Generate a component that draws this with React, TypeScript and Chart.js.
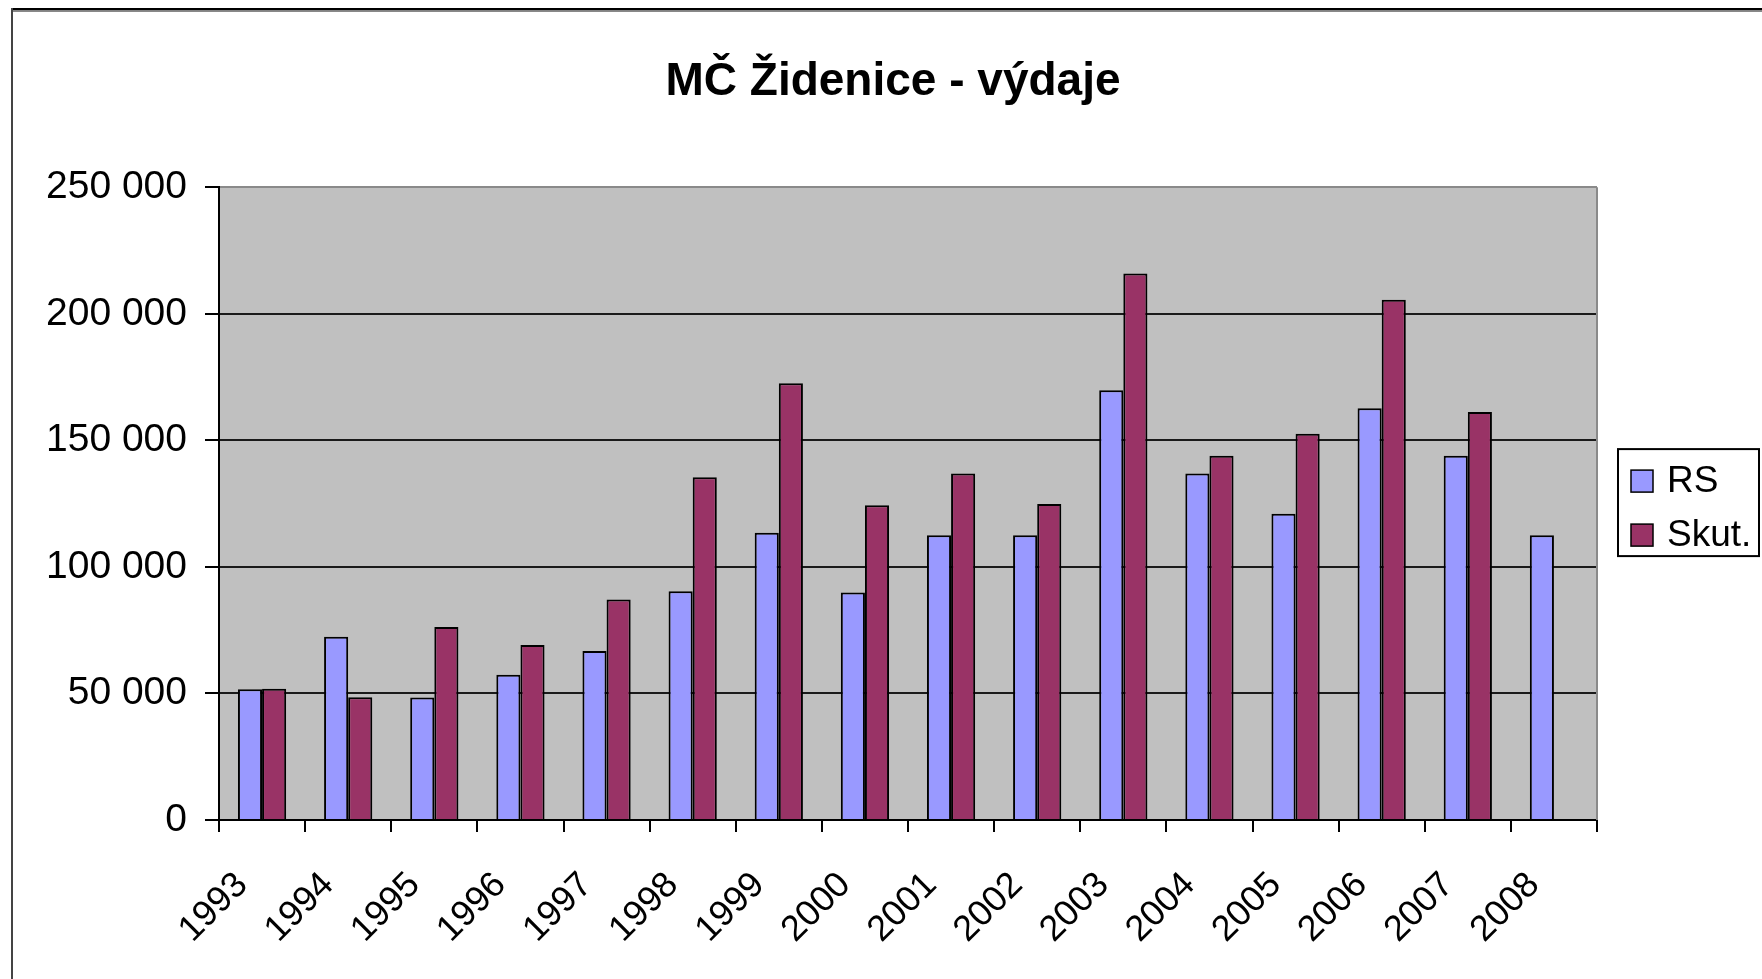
import React, { useEffect, useRef } from "react";
import { Chart, registerables } from "chart.js";

Chart.register(...registerables);

const title = "MČ Židenice - výdaje";
const years = ["1993", "1994", "1995", "1996", "1997", "1998", "1999", "2000", "2001", "2002", "2003", "2004", "2005", "2006", "2007", "2008"];
const rsValues = [51700, 72400, 48400, 57400, 66800, 90400, 113500, 89900, 112500, 112500, 169800, 136900, 121000, 162700, 143900, 112500];
const skutValues: (number | null)[] = [51900, 48500, 76200, 69100, 87100, 135400, 172500, 124300, 136900, 124800, 215900, 143900, 152600, 205500, 161200, null];
const seriesNames = ["RS", "Skut."];
const seriesColors = ["#9999FF", "#993366"];
const yTicks = [0, 50000, 100000, 150000, 200000, 250000];

const FONT = "'Liberation Sans', Arial, sans-serif";

const fmt = (v: number) => String(v).replace(/\B(?=(\d{3})+(?!\d))/g, " ");

const framePlugin = {
  id: "frame",
  beforeDraw(chart: any) {
    const { ctx, chartArea, width, height } = chart;
    ctx.save();
    ctx.fillStyle = "#FFFFFF";
    ctx.fillRect(0, 0, width, height);
    // outer border (top & left)
    ctx.fillStyle = "#000";
    ctx.fillRect(11, 8, width - 11, 2.5);
    ctx.fillStyle = "#888";
    ctx.fillRect(11, 10.5, width - 11, 1.5);
    ctx.fillStyle = "#444";
    ctx.fillRect(11, 8, 2, height - 8);
    // plot background
    ctx.fillStyle = "#C0C0C0";
    ctx.fillRect(chartArea.left, chartArea.top, chartArea.right - chartArea.left, chartArea.bottom - chartArea.top);
    ctx.restore();
  },
  beforeDatasetsDraw(chart: any) {
    const { ctx, chartArea } = chart;
    ctx.save();
    ctx.strokeStyle = "#8a8a8a";
    ctx.lineWidth = 2;
    ctx.beginPath();
    ctx.moveTo(chartArea.right, chartArea.top);
    ctx.lineTo(chartArea.right, chartArea.bottom);
    ctx.stroke();
    ctx.restore();
  },
  afterDraw(chart: any) {
    const { ctx, chartArea } = chart;
    const w = 141;
    const h = 107;
    const x0 = chartArea.right + 21;
    const y0 = (chartArea.top + chartArea.bottom) / 2 - h / 2 - 1;
    ctx.save();
    ctx.fillStyle = "#fff";
    ctx.fillRect(x0, y0, w, h);
    ctx.strokeStyle = "#000";
    ctx.lineWidth = 2;
    ctx.strokeRect(x0, y0, w, h);
    chart.data.datasets.forEach((ds: any, i: number) => {
      const sy = y0 + 21 + i * 54;
      ctx.fillStyle = ds.backgroundColor;
      ctx.fillRect(x0 + 13, sy, 22, 22);
      ctx.strokeStyle = "#000";
      ctx.lineWidth = 1.5;
      ctx.strokeRect(x0 + 13, sy, 22, 22);
      ctx.fillStyle = "#000";
      ctx.font = `37px ${FONT}`;
      ctx.textAlign = "left";
      ctx.textBaseline = "middle";
      ctx.fillText(ds.label, x0 + 49, sy + 12);
    });
    ctx.restore();
  },
};

export default function App() {
  const ref = useRef<HTMLCanvasElement | null>(null);

  useEffect(() => {
    if (!ref.current) return;
    const chart = new Chart(ref.current, {
      type: "bar",
      data: {
        labels: years,
        datasets: [
          {
            label: seriesNames[0],
            data: rsValues,
            backgroundColor: seriesColors[0],
            borderColor: "#000",
            borderWidth: 2,
            categoryPercentage: 0.56,
            barPercentage: 1,
          },
          {
            label: seriesNames[1],
            data: skutValues,
            backgroundColor: seriesColors[1],
            borderColor: "#000",
            borderWidth: 2,
            categoryPercentage: 0.56,
            barPercentage: 1,
          },
        ],
      },
      options: {
        responsive: false,
        animation: false,
        layout: { padding: { left: 24, right: 0, top: 0, bottom: 0 } },
        plugins: {
          legend: { display: false },
          tooltip: { enabled: false },
          title: {
            display: true,
            text: title,
            color: "#000",
            font: { family: FONT, size: 46, weight: "bold" },
            padding: { top: 55, bottom: 77 },
          },
        },
        scales: {
          x: {
            type: "category",
            grid: {
              display: true,
              drawOnChartArea: false,
              drawTicks: true,
              tickLength: 12,
              color: "#000",
              lineWidth: 2,
              offset: true,
            },
            border: { display: true, color: "#000", width: 2 },
            ticks: {
              color: "#000",
              font: { family: FONT, size: 36 },
              minRotation: 45,
              maxRotation: 45,
              autoSkip: false,
              padding: 32,
              labelOffset: -20,
            },
            afterFit: (s: any) => {
              s.height = 159;
            },
          },
          y: {
            type: "linear",
            min: 0,
            max: 250000,
            afterBuildTicks: (s: any) => {
              s.ticks = yTicks.map((v) => ({ value: v }));
            },
            grid: {
              color: (c: any) => (c.tick && c.tick.value === 250000 ? "#8a8a8a" : "#1a1a1a"),
              tickColor: "#000",
              lineWidth: 2,
              tickLength: 14,
              drawTicks: true,
            },
            border: { display: true, color: "#000", width: 2 },
            ticks: {
              color: "#000",
              font: { family: FONT, size: 39 },
              padding: 18,
              callback: (v: any) => fmt(Number(v)),
            },
            afterFit: (s: any) => {
              s.width = 195;
            },
          },
          spacer: {
            type: "linear",
            position: "right",
            display: true,
            grid: { display: false, drawTicks: false },
            border: { display: false },
            ticks: { display: false },
            afterFit: (s: any) => {
              s.width = 165;
            },
          },
        },
      } as any,
      plugins: [framePlugin],
    });
    return () => chart.destroy();
  }, []);

  return (
    <div style={{ position: "fixed", left: 0, top: 0, width: 1762, height: 979, background: "#fff" }}>
      <canvas ref={ref} width={1762} height={979} style={{ display: "block" }} />
    </div>
  );
}
